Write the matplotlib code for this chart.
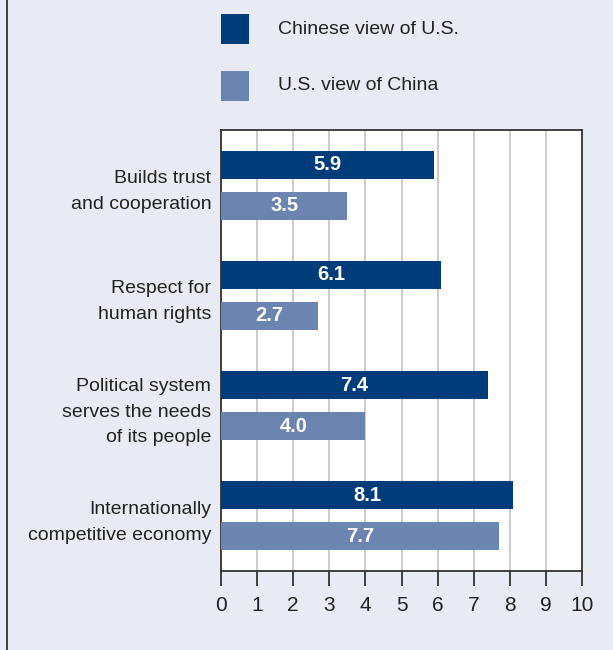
import matplotlib
matplotlib.use("Agg")
import matplotlib.pyplot as plt
from matplotlib.patches import Rectangle
from matplotlib.lines import Line2D
import numpy as np

categories = ["Builds trust\nand cooperation",
              "Respect for\nhuman rights",
              "Political system\nserves the needs\nof its people",
              "Internationally\ncompetitive economy"]
chinese_view_us = [5.9, 6.1, 7.4, 8.1]
us_view_china = [3.5, 2.7, 4.0, 7.7]
series_names = ["Chinese view of U.S.", "U.S. view of China"]
xticks = list(range(0, 11))

FONT = ["Liberation Sans Narrow", "Liberation Sans", "DejaVu Sans"]
plt.rcParams["font.family"] = FONT

NAVY = "#003C7A"
LIGHT = "#6B84B0"
BG = "#E9EBF4"
DARK = "#333333"
GRID = "#CBCBCB"
TXT = "#222222"

W, H = 613, 650
fig = plt.figure(figsize=(W / 100, H / 100), dpi=100, facecolor=BG)

def fx(px):
    return px / W

def fy(py):
    return 1 - py / H

ax = fig.add_axes([fx(221), fy(571), fx(582) - fx(221), fy(130) - fy(571)])
ax.set_facecolor("white")

y = np.arange(len(categories)) + 0.5
off = 0.187
h = 0.254
b1 = ax.barh(y - off, chinese_view_us, height=h, color=NAVY, zorder=3)
b2 = ax.barh(y + off, us_view_china, height=h, color=LIGHT, zorder=3)

for bars, vals in ((b1, chinese_view_us), (b2, us_view_china)):
    for bar, v in zip(bars, vals):
        ax.text(v / 2, bar.get_y() + bar.get_height() / 2, f"{v:.1f}",
                ha="center", va="center", color="white", fontsize=14.5,
                fontweight="bold", zorder=4)

ax.set_xlim(0, 10)
ax.set_ylim(len(categories), 0)
ax.set_xticks(xticks)
ax.set_xticklabels([str(t) for t in xticks], fontsize=15, color=TXT)
ax.set_yticks(y)
ax.set_yticklabels(categories, fontsize=14, color=TXT, linespacing=1.68)
ax.tick_params(axis="y", length=0, pad=7)
ax.tick_params(axis="x", length=10.8, width=1.3, color=DARK, direction="out", pad=7)
ax.xaxis.grid(True, color=GRID, linewidth=1.4, zorder=1)
ax.set_axisbelow(True)
for s in ax.spines.values():
    s.set_color(DARK)
    s.set_linewidth(1.3)

# legend
for i, (name, col) in enumerate(zip(series_names, [NAVY, LIGHT])):
    top = 14 + i * 57
    fig.patches.append(Rectangle((fx(221), fy(top + 30)), fx(249) - fx(221),
                                 fy(top) - fy(top + 30), transform=fig.transFigure,
                                 facecolor=col, edgecolor="none"))
    fig.text(fx(278), fy(top + 15), name, ha="left", va="center",
             fontsize=14, color=TXT)

# left frame line
fig.add_artist(Line2D([fx(6.5), fx(6.5)], [0, 1], transform=fig.transFigure,
                      color=DARK, linewidth=1.3))

fig.savefig("out.png", dpi=100, facecolor=BG)
